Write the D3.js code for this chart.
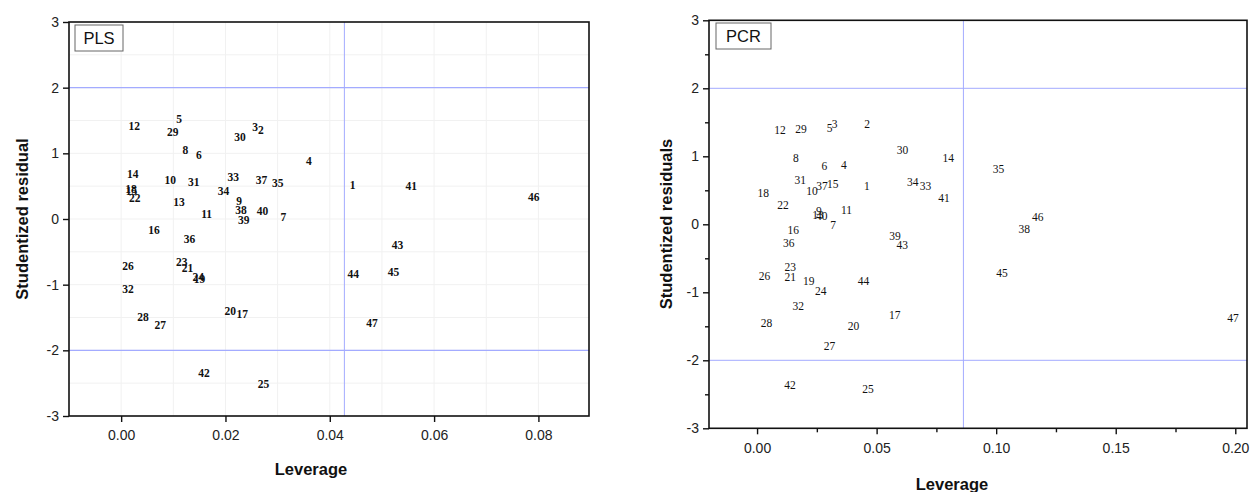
<!doctype html>
<html lang="en">
<head>
<meta charset="utf-8">
<title>Williams plots PLS / PCR</title>
<script src="https://d3js.org/d3.v7.min.js"></script>
<style>
  body { margin: 0; background: #fff; }
  svg { display: block; }
  .tick text { font-family: "Liberation Sans", Arial, sans-serif; font-size: 14px; fill: #222; }
  .axis-title { font-family: "Liberation Sans", Arial, sans-serif; font-weight: bold; font-size: 16.5px; fill: #111; }
  .tag { font-family: "Liberation Sans", Arial, sans-serif; font-size: 16.5px; fill: #111; }
</style>
</head>
<body>
<svg id="chart" width="1251" height="492"></svg>
<script>
// sample ids 1..47
var sampleIds = d3.range(1, 48);

// PLS model: leverage and studentized residual per sample id
var plsLeverage = [0.0444, 0.0268, 0.0257, 0.0360, 0.0111, 0.0149, 0.0311, 0.0123, 0.0226, 0.0094,
  0.0164, 0.0025, 0.0111, 0.0022, 0.0020, 0.0063, 0.0232, 0.0019, 0.0150, 0.0209,
  0.0127, 0.0026, 0.0116, 0.0148, 0.0273, 0.0013, 0.0075, 0.0042, 0.0099, 0.0228,
  0.0139, 0.0013, 0.0215, 0.0196, 0.0300, 0.0131, 0.0269, 0.0230, 0.0235, 0.0271,
  0.0556, 0.0159, 0.0530, 0.0445, 0.0522, 0.0791, 0.0481];
var plsResidual = [0.52, 1.35, 1.40, 0.88, 1.53, 0.97, 0.03, 1.05, 0.27, 0.60,
  0.07, 1.41, 0.26, 0.68, 0.43, -0.17, -1.45, 0.46, -0.91, -1.40,
  -0.75, 0.32, -0.65, -0.88, -2.51, -0.71, -1.62, -1.49, 1.33, 1.25,
  0.57, -1.07, 0.64, 0.43, 0.55, -0.30, 0.59, 0.13, -0.02, 0.12,
  0.51, -2.35, -0.39, -0.84, -0.80, 0.33, -1.59];

// PCR model
var pcrLeverage = [0.0459, 0.0460, 0.0324, 0.0363, 0.0303, 0.0282, 0.0318, 0.0162, 0.0259, 0.0230,
  0.0374, 0.0096, 0.0255, 0.0800, 0.0317, 0.0151, 0.0576, 0.0026, 0.0216, 0.0403,
  0.0139, 0.0109, 0.0139, 0.0266, 0.0464, 0.0031, 0.0303, 0.0039, 0.0184, 0.0608,
  0.0181, 0.0172, 0.0704, 0.0651, 0.1010, 0.0133, 0.0272, 0.1117, 0.0577, 0.0271,
  0.0782, 0.0138, 0.0607, 0.0445, 0.1024, 0.1174, 0.1990];
var pcrResidual = [0.57, 1.47, 1.47, 0.87, 1.41, 0.86, -0.01, 0.98, 0.20, 0.49,
  0.21, 1.38, 0.14, 0.97, 0.59, -0.09, -1.34, 0.46, -0.84, -1.49,
  -0.77, 0.28, -0.63, -0.98, -2.42, -0.76, -1.79, -1.45, 1.40, 1.09,
  0.65, -1.20, 0.57, 0.62, 0.82, -0.28, 0.57, -0.07, -0.17, 0.12,
  0.38, -2.36, -0.31, -0.84, -0.71, 0.11, -1.38];

// tick labels
var residualTicks = [-3, -2, -1, 0, 1, 2, 3];
var plsLeverageTicks = [0, 0.02, 0.04, 0.06, 0.08];
var pcrLeverageTicks = [0, 0.05, 0.10, 0.15, 0.20];
var pcrLeverageMinor = [0.025, 0.075, 0.125, 0.175];
var residualMinor = [-2.5, -1.5, -0.5, 0.5, 1.5, 2.5];

// warning limits
var plsHstar = 0.0428, pcrHstar = 0.0863, residLimit = 2;

var svg = d3.select("#chart");

function drawPanel(p) {
  var x = d3.scaleLinear().domain(p.xDomain).range([p.left, p.right]);
  var y = d3.scaleLinear().domain([-3, 3]).range([p.bottom, p.top]);
  var g = svg.append("g");

  // faint grid (PLS only)
  if (p.grid) {
    g.selectAll(".gx").data(d3.range(0, 0.09, 0.01)).enter().append("line")
      .attr("x1", function(d) { return x(d); }).attr("x2", function(d) { return x(d); })
      .attr("y1", p.top).attr("y2", p.bottom)
      .attr("stroke", "#f1f1f1").attr("stroke-width", 1);
    g.selectAll(".gy").data(d3.range(-2.5, 3, 0.5)).enter().append("line")
      .attr("y1", function(d) { return y(d); }).attr("y2", function(d) { return y(d); })
      .attr("x1", p.left).attr("x2", p.right)
      .attr("stroke", "#f1f1f1").attr("stroke-width", 1);
  }

  // limit lines
  g.selectAll(".hl").data([residLimit, -residLimit]).enter().append("line")
    .attr("x1", p.left).attr("x2", p.right)
    .attr("y1", function(d) { return y(d); }).attr("y2", function(d) { return y(d); })
    .attr("stroke", "#a3abff").attr("stroke-width", p.limitWidth);
  g.append("line")
    .attr("x1", x(p.hstar)).attr("x2", x(p.hstar))
    .attr("y1", p.top).attr("y2", p.bottom)
    .attr("stroke", "#a3abff").attr("stroke-width", 1);

  // frame
  g.append("rect")
    .attr("x", p.left).attr("y", p.top)
    .attr("width", p.right - p.left).attr("height", p.bottom - p.top)
    .attr("fill", "none").attr("stroke", "#111").attr("stroke-width", 1.6);

  // axes (plain hyphen for negatives, as in the original)
  g.append("g")
    .attr("transform", "translate(0," + p.bottom + ")")
    .call(d3.axisBottom(x).tickValues(p.xTicks).tickSize(6).tickPadding(p.xPad)
      .tickFormat(d3.format(".2f")));
  g.append("g")
    .attr("transform", "translate(" + p.left + ",0)")
    .call(d3.axisLeft(y).tickValues(residualTicks).tickSize(6).tickPadding(4)
      .tickFormat(function(d) { return String(d); }));
  if (p.minor) {
    g.append("g").attr("transform", "translate(0," + p.bottom + ")")
      .call(d3.axisBottom(x).tickValues(pcrLeverageMinor).tickSize(4).tickFormat(""));
    g.append("g").attr("transform", "translate(" + p.left + ",0)")
      .call(d3.axisLeft(y).tickValues(residualMinor).tickSize(4).tickFormat(""));
  }
  g.selectAll(".domain").remove();
  g.selectAll(".tick line").attr("stroke", "#111").attr("stroke-width", 1.4);

  // titles
  g.append("text").attr("class", "axis-title")
    .attr("x", p.xTitle[0]).attr("y", p.xTitle[1])
    .attr("text-anchor", "middle").attr("dominant-baseline", "central")
    .text("Leverage");
  g.append("text").attr("class", "axis-title")
    .attr("transform", "translate(" + p.yTitle[0] + "," + p.yTitle[1] + ") rotate(-90)")
    .attr("text-anchor", "middle").attr("dominant-baseline", "central")
    .text(p.yLabel);

  // model tag box
  g.append("rect")
    .attr("x", p.tag[0]).attr("y", p.tag[1]).attr("width", p.tag[2]).attr("height", 26)
    .attr("fill", "#fff").attr("stroke", "#666").attr("stroke-width", 1);
  g.append("text").attr("class", "tag")
    .attr("x", p.tag[0] + p.tag[2] / 2).attr("y", p.tag[1] + 13)
    .attr("text-anchor", "middle").attr("dominant-baseline", "central")
    .text(p.name);

  // sample labels
  g.selectAll(".pt").data(sampleIds).enter().append("text")
    .attr("x", function(d, i) { return x(p.lev[i]); })
    .attr("y", function(d, i) { return y(p.res[i]); })
    .attr("text-anchor", "middle").attr("dominant-baseline", "central")
    .attr("font-family", "'Liberation Serif', 'Times New Roman', serif")
    .attr("font-size", "11.5px")
    .attr("font-weight", p.bold ? "bold" : "normal")
    .attr("fill", "#111")
    .text(function(d) { return d; });
}

drawPanel({
  name: "PLS", left: 69, right: 589, top: 22, bottom: 416,
  xDomain: [-0.01, 0.0897], xTicks: plsLeverageTicks, xPad: 8,
  hstar: plsHstar, lev: plsLeverage, res: plsResidual,
  grid: true, minor: false, bold: true, limitWidth: 1.3,
  yLabel: "Studentized residual", xTitle: [311, 469], yTitle: [22, 219],
  tag: [75, 25, 48]
});

drawPanel({
  name: "PCR", left: 709, right: 1247, top: 20.3, bottom: 428.3,
  xDomain: [-0.0201, 0.2049], xTicks: pcrLeverageTicks, xPad: 9,
  hstar: pcrHstar, lev: pcrLeverage, res: pcrResidual,
  grid: false, minor: true, bold: false, limitWidth: 1,
  yLabel: "Studentized residuals", xTitle: [952, 484], yTitle: [666, 224],
  tag: [716, 23, 55]
});
</script>
</body>
</html>
